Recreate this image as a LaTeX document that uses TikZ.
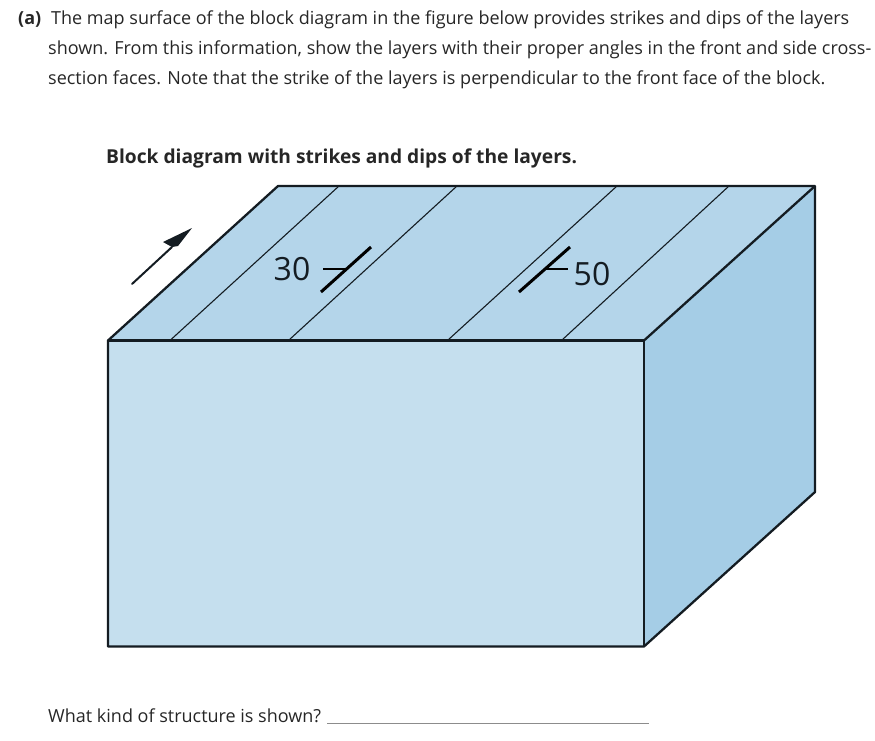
\documentclass[tikz,border=0pt]{standalone}
\usepackage{fontspec}
\setmainfont{Open Sans}
\definecolor{mapblue}{RGB}{180,213,234}
\definecolor{frontblue}{RGB}{197,223,238}
\definecolor{sideblue}{RGB}{165,205,230}
\definecolor{edgeblack}{RGB}{20,28,34}
\tikzset{
  textline/.style={anchor=base west,inner sep=0pt,text=black!85,font=\fontsize{18}{20}\selectfont},
  partline/.style={textline,font=\fontsize{18}{20}\selectfont\bfseries},
  headline/.style={textline,font=\fontsize{19.2}{22}\selectfont\bfseries},
  diplabel/.style={inner sep=0pt,text=edgeblack,font=\fontsize{32}{34}\selectfont},
  blockedge/.style={draw=edgeblack,line width=2.3pt,line join=round},
  strikeline/.style={edgeblack,line width=1.1pt},
  symbolline/.style={black,line width=3pt}
}
\begin{document}
\begin{tikzpicture}[x=1pt,y=-1pt]
	\useasboundingbox (0,0) rectangle (875,740);
	% corners of the block
	\coordinate (a) at (108,340.5);
	\coordinate (b) at (644,340.5);
	\coordinate (c) at (644,646.5);
	\coordinate (d) at (108,646.5);
	\coordinate (e) at (278,186);
	\coordinate (f) at (815,186);
	\coordinate (g) at (815,492);
	% faces
	\fill [mapblue] (a) -- (e) -- (f) -- (b) -- cycle;
	\fill [frontblue] (a) -- (b) -- (c) -- (d) -- cycle;
	\fill [sideblue] (b) -- (f) -- (g) -- (c) -- cycle;
	% layer traces
	\foreach \i/\xa/\xb in {1/170.5/339,2/289/457,3/448/617,4/562/729}{
		\coordinate (s-\i) at (\xa,340);
		\coordinate (t-\i) at (\xb,186);
		\draw [strikeline] (s-\i) -- (t-\i);
	}
	\draw [blockedge] (a) -- (e) -- (f) -- (g) -- (c) -- (d) -- cycle;
	\draw [blockedge] (a) -- (b) -- (c);
	\draw [blockedge] (b) -- (f);
	% north arrow
	\coordinate (n-0) at (132,284);
	\coordinate (n-1) at (192,228);
	\draw [edgeblack,line width=2pt,line cap=round] (n-0) -- (172,247);
	\fill [edgeblack] (n-1) -- (163,242) -- (172,247) -- (178,246) -- cycle;
	% strike and dip symbols
	\coordinate (p-0) at (321,292);
	\coordinate (p-1) at (371,247);
	\coordinate (p-2) at (323,269);
	\coordinate (p-3) at (346,269);
	\draw [symbolline] (p-0) -- (p-1);
	\draw [symbolline,line width=2.6pt] (p-2) -- (p-3);
	\node [diplabel] (dip-30) at (292,269) {30};
	\coordinate (q-0) at (519,292);
	\coordinate (q-1) at (570,247);
	\coordinate (q-2) at (545,269);
	\coordinate (q-3) at (568,269);
	\draw [symbolline] (q-0) -- (q-1);
	\draw [symbolline,line width=2.6pt] (q-2) -- (q-3);
	\node [diplabel] (dip-50) at (592,274) {50};
	% text
	\node [partline] (part) at (18,24) {(a)};
	\node [textline] (line-1) at (51,24) {The map surface of the block diagram in the figure below provides strikes and dips of the layers};
	\node [textline] (line-2) at (48,54) {shown. From this information, show the layers with their proper angles in the front and side cross-};
	\node [textline] (line-3) at (48,84) {section faces. Note that the strike of the layers is perpendicular to the front face of the block.};
	\node [headline] (title) at (106,163) {Block diagram with strikes and dips of the layers.};
	\node [textline] (question) at (48,722) {What kind of structure is shown?};
	\coordinate (u-0) at (327,723);
	\coordinate (u-1) at (649,723);
	\draw [black!45,line width=0.7pt] (u-0) -- (u-1);
\end{tikzpicture}
\end{document}
